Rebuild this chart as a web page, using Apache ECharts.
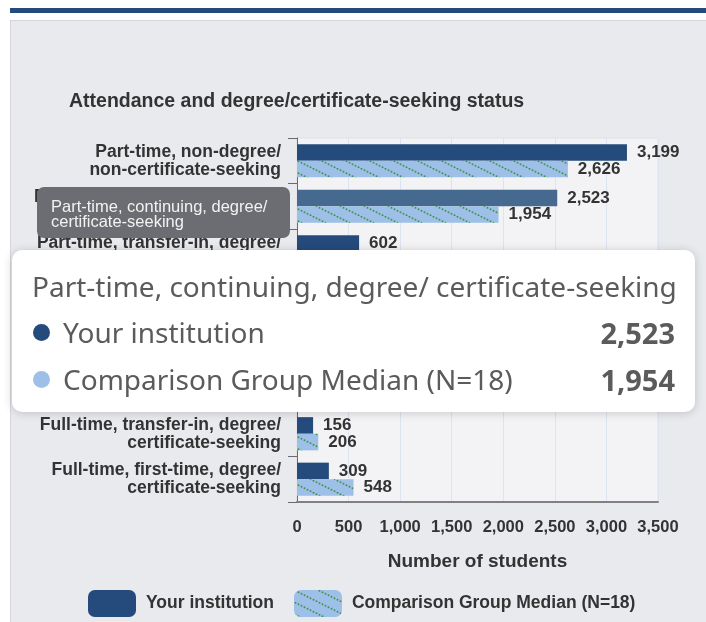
<!DOCTYPE html>
<html>
<head>
<meta charset="utf-8">
<script src="https://cdn.jsdelivr.net/npm/echarts@6/dist/echarts.min.js"></script>
<style>
html, body { margin: 0; padding: 0; background: #fff; }
.page { position: relative; width: 706px; height: 622px; overflow: hidden; }
.top-bar { position: absolute; left: 10px; top: 8px; width: 696px; height: 5px; background: #244b7b; }
.panel { position: absolute; left: 10px; top: 20px; width: 700px; height: 610px; background: #e9eaee; border: 1px solid #d6d6da; }
#chart { position: absolute; left: 0; top: 0; width: 706px; height: 622px; }
</style>
</head>
<body>
<div class="page">
  <div class="top-bar"></div>
  <div class="panel"></div>
  <div id="chart"></div>
</div>
<script>
// categories, top to bottom
var categories = [
  'Part-time, non-degree/ non-certificate-seeking',
  'Part-time, continuing, degree/ certificate-seeking',
  'Part-time, transfer-in, degree/ certificate-seeking',
  'Part-time, first-time, degree/ certificate-seeking',
  'Full-time, non-degree/ non-certificate-seeking',
  'Full-time, continuing, degree/ certificate-seeking',
  'Full-time, transfer-in, degree/ certificate-seeking',
  'Full-time, first-time, degree/ certificate-seeking'
]
var institution = [3199, 2523, 602, 52, 18, 1150, 156, 309]
var groupMedian = [2626, 1954, 415, 96, 40, 1480, 206, 548]
var seriesNames = ['Your institution', 'Comparison Group Median (N=18)']
var xTicks = [0, 500, 1000, 1500, 2000, 2500, 3000, 3500]
var hoverIndex = 1

var navy = '#244b7b'
var lightBlue = '#9ec0e8'
var fontFamily = "'Liberation Sans', Arial, sans-serif"

function fmt(v) {
  return String(v).replace(/\B(?=(\d{3})+(?!\d))/g, ',')
}

// light blue fill with green dotted diagonals
function makePattern() {
  var c = document.createElement('canvas')
  c.width = 24
  c.height = 12
  var ctx = c.getContext('2d')
  ctx.fillStyle = lightBlue
  ctx.fillRect(0, 0, 24, 12)
  ctx.fillStyle = '#3f9148'
  for (var i = 0; i < 8; i++) {
    ctx.beginPath()
    ctx.arc(1.5 + i * 3, 0.75 + i * 1.5, 0.95, 0, Math.PI * 2)
    ctx.fill()
  }
  return c
}
var pattern = {image: makePattern(), repeat: 'repeat'}

var instData = institution.map(function (v, i) {
  if (i === hoverIndex) {
    return {value: v, itemStyle: {color: '#46698f'}}
  }
  return v
})

var chart = echarts.init(document.getElementById('chart'))

var option = {
  animation: false,
  textStyle: {fontFamily: fontFamily},
  title: {
    text: 'Attendance and degree/certificate-seeking status',
    left: 64,
    top: 87,
    textStyle: {fontSize: 19.5, fontWeight: 'bold', color: '#333', fontFamily: fontFamily}
  },
  grid: {
    left: 297,
    right: 48,
    top: 138,
    bottom: 120,
    show: true,
    backgroundColor: '#f3f3f5',
    borderColor: '#e2e2e6',
    borderWidth: 1
  },
  legend: {
    left: 88,
    top: 590,
    padding: 0,
    icon: 'roundRect',
    itemWidth: 48,
    itemHeight: 27,
    itemGap: 20,
    textStyle: {fontSize: 17.5, fontWeight: 'bold', color: '#333', padding: [0, 0, 0, 5]},
    data: seriesNames
  },
  tooltip: {
    trigger: 'item',
    triggerOn: 'none',
    alwaysShowContent: true,
    transitionDuration: 0,
    position: [12, 250],
    backgroundColor: '#fff',
    borderWidth: 0,
    borderRadius: 10,
    padding: [13, 20, 9, 20],
    extraCssText: 'width:643px;box-shadow:0 1px 10px rgba(0,0,0,0.18);',
    formatter: function (p) {
      var i = p.dataIndex
      var dots = [navy, lightBlue]
      var vals = [institution[i], groupMedian[i]]
      var html = '<div style="font-family:\'Noto Sans\';font-size:28px;line-height:46px;color:#5b5b5b;white-space:nowrap;">' + categories[i] + '</div>'
      for (var k = 0; k < 2; k++) {
        html += '<div style="display:flex;align-items:center;font-family:\'Noto Sans\';font-size:28px;line-height:47px;color:#5b5b5b;">' +
          '<span style="display:inline-block;width:17px;height:17px;border-radius:50%;background:' + dots[k] + ';margin:0 13px 0 1px;"></span>' +
          '<span style="flex:1;">' + seriesNames[k] + '</span>' +
          '<span style="font-weight:bold;font-size:29px;">' + fmt(vals[k]) + '</span></div>'
      }
      return html
    }
  },
  xAxis: {
    type: 'value',
    min: xTicks[0],
    max: xTicks[xTicks.length - 1],
    interval: xTicks[1] - xTicks[0],
    name: 'Number of students',
    nameLocation: 'middle',
    nameGap: 50,
    nameTextStyle: {fontSize: 19, fontWeight: 'bold', color: '#333'},
    axisLine: {show: true, lineStyle: {color: '#808086', width: 2}},
    axisTick: {show: false},
    axisLabel: {
      margin: 17,
      fontSize: 16.5,
      fontWeight: 'bold',
      color: '#333',
      formatter: function (v) { return fmt(v) }
    },
    splitLine: {show: true, lineStyle: {color: '#dce3f1'}}
  },
  yAxis: {
    type: 'category',
    inverse: true,
    data: categories,
    axisLine: {show: true, lineStyle: {color: '#6a6a6e'}},
    axisTick: {show: true, length: 9, lineStyle: {color: '#6a6a6e'}},
    axisLabel: {
      margin: 16,
      fontSize: 17.5,
      fontWeight: 'bold',
      color: '#333',
      lineHeight: 18,
      formatter: function (v) { return v.replace('/ ', '/\n') }
    }
  },
  series: [
    {
      name: seriesNames[0],
      type: 'bar',
      data: instData,
      barGap: '0%',
      barCategoryGap: '27%',
      itemStyle: {color: navy},
      emphasis: {disabled: true},
      label: {
        show: true,
        position: 'right',
        distance: 10,
        fontSize: 17,
        fontWeight: 'bold',
        color: '#333',
        formatter: function (p) { return fmt(p.value) }
      }
    },
    {
      name: seriesNames[1],
      type: 'bar',
      data: groupMedian,
      barGap: '0%',
      barCategoryGap: '27%',
      itemStyle: {color: pattern},
      emphasis: {disabled: true},
      label: {
        show: true,
        position: 'right',
        distance: 10,
        fontSize: 17,
        fontWeight: 'bold',
        color: '#333',
        formatter: function (p) { return fmt(p.value) }
      }
    }
  ],
  // truncated axis label hint box
  graphic: [
    {
      type: 'rect',
      left: 37,
      top: 187,
      z: 100,
      zlevel: 1,
      shape: {width: 253, height: 51, r: 7},
      style: {fill: '#6c6d72'}
    },
    {
      type: 'text',
      left: 51,
      top: 199,
      z: 101,
      zlevel: 1,
      style: {
        text: 'Part-time, continuing, degree/\ncertificate-seeking',
        fill: '#f2f2f2',
        font: '16.5px ' + fontFamily,
        lineHeight: 15
      }
    }
  ]
}

chart.setOption(option)
chart.dispatchAction({type: 'showTip', seriesIndex: 0, dataIndex: hoverIndex})
</script>
</body>
</html>
